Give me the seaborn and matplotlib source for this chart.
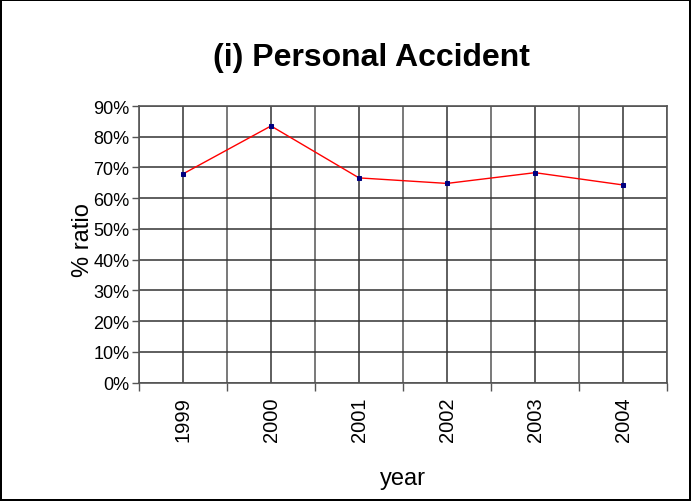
import matplotlib
matplotlib.use("Agg")
import matplotlib.pyplot as plt
import pandas as pd
import seaborn as sns
from matplotlib.ticker import PercentFormatter, FixedLocator

# data
years = ["1999", "2000", "2001", "2002", "2003", "2004"]
ratio = [67.9, 83.5, 66.6, 64.8, 68.3, 64.3]

df = pd.DataFrame({"year": years, "ratio": ratio})
df["pos"] = range(len(years))

sns.set_style("white")
plt.rcParams["font.family"] = ["Liberation Sans", "DejaVu Sans"]
plt.rcParams["text.color"] = "black"
plt.rcParams["xtick.color"] = "black"
plt.rcParams["ytick.color"] = "black"

fig = plt.figure(figsize=(6.91, 5.02), dpi=100)
fig.patch.set_edgecolor("black")
fig.patch.set_linewidth(1.5)
ax = fig.add_axes([139 / 691, 1 - 383.5 / 502, 528 / 691, 276.5 / 502])

sns.lineplot(data=df, x="pos", y="ratio", ax=ax, color="red", linewidth=1,
             marker="s", markersize=3.5, markerfacecolor="navy",
             markeredgecolor="navy")

ax.set_xlim(-0.5, len(years) - 0.5)
ax.set_ylim(0, 90)
ax.set_yticks(range(0, 91, 10))
ax.yaxis.set_major_formatter(PercentFormatter(decimals=0))

ax.set_xticks(df["pos"])
ax.set_xticklabels(years, rotation=90)
ax.xaxis.set_minor_locator(FixedLocator([p - 0.5 for p in range(len(years) + 1)]))

ax.grid(True, which="major", axis="both", color="#333333", linewidth=1.1)
ax.grid(True, which="minor", axis="x", color="#555555", linewidth=1.1)
ax.tick_params(axis="x", which="major", length=0, labelsize=14.5, pad=10,
               labelcolor="black")
ax.tick_params(axis="x", which="minor", length=6, width=1, color="#555555",
               direction="out", bottom=True)
ax.tick_params(axis="y", length=5, width=1, color="#555555", labelsize=13,
               direction="out", left=True, pad=2, labelcolor="black")

for side in ["left", "bottom", "top", "right"]:
    ax.spines[side].set_visible(True)
    ax.spines[side].set_color("#555555")
    ax.spines[side].set_linewidth(1.2)

ax.set_xlabel("")
ax.set_ylabel("")
fig.text(83 / 691, 1 - 240 / 502, "% ratio", rotation=90, fontsize=17,
         ha="center", va="center", color="black")
fig.text(403 / 691, 1 - 479 / 502, "year", fontsize=17, ha="center",
         va="center", color="black")
fig.text(371 / 691, 1 - 58 / 502, "(i) Personal Accident", fontsize=23,
         fontweight="bold", ha="center", va="center", color="black")

fig.savefig("out.png", dpi=100, edgecolor=fig.get_edgecolor())
